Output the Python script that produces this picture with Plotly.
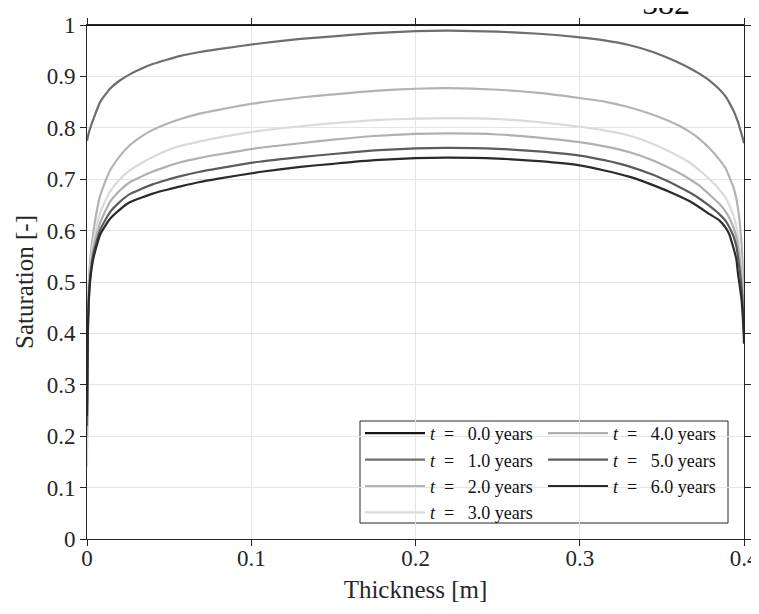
import plotly.graph_objects as go

# Thickness positions [m]
thickness = [0, 0.0005, 0.001, 0.002, 0.004, 0.008, 0.014, 0.02, 0.026, 0.033, 0.04, 0.048,
             0.057, 0.068, 0.08, 0.105, 0.13, 0.15, 0.175, 0.2, 0.22, 0.25, 0.275, 0.3,
             0.315, 0.33, 0.345, 0.36, 0.367, 0.373, 0.379, 0.385, 0.389, 0.391, 0.3935,
             0.3953, 0.3965, 0.3973, 0.3985, 0.3993, 0.3998, 0.4]

sat_t0 = [1.0] * len(thickness)
sat_t1 = [0.775, 0.782, 0.789, 0.80, 0.818, 0.850, 0.876, 0.892, 0.904, 0.915, 0.924, 0.932,
          0.940, 0.947, 0.953, 0.964, 0.973, 0.978, 0.984, 0.988, 0.989, 0.987, 0.983, 0.976,
          0.970, 0.961, 0.947, 0.927, 0.916, 0.905, 0.892, 0.875, 0.860, 0.849, 0.834,
          0.820, 0.810, 0.801, 0.788, 0.779, 0.773, 0.77]
sat_t2 = [0.18, 0.42, 0.49, 0.545, 0.60, 0.668, 0.717, 0.745, 0.766, 0.783, 0.796, 0.807,
          0.817, 0.827, 0.835, 0.849, 0.859, 0.865, 0.872, 0.876, 0.877, 0.874, 0.868, 0.858,
          0.851, 0.840, 0.825, 0.805, 0.792, 0.778, 0.760, 0.738, 0.720, 0.705, 0.685,
          0.663, 0.64, 0.62, 0.575, 0.525, 0.47, 0.42]
sat_t3 = [0.14, 0.41, 0.48, 0.53, 0.58, 0.635, 0.676, 0.700, 0.717, 0.731, 0.743, 0.755,
          0.765, 0.773, 0.781, 0.794, 0.803, 0.809, 0.815, 0.818, 0.819, 0.817, 0.811, 0.802,
          0.795, 0.785, 0.768, 0.745, 0.732, 0.717, 0.700, 0.680, 0.663, 0.650, 0.630,
          0.608, 0.585, 0.565, 0.525, 0.485, 0.44, 0.41]
sat_t4 = [0.20, 0.41, 0.47, 0.52, 0.567, 0.615, 0.656, 0.678, 0.694, 0.705, 0.715, 0.724,
          0.733, 0.741, 0.748, 0.761, 0.770, 0.777, 0.784, 0.788, 0.789, 0.787, 0.781, 0.772,
          0.764, 0.753, 0.736, 0.713, 0.700, 0.687, 0.670, 0.652, 0.636, 0.625, 0.607,
          0.588, 0.565, 0.545, 0.51, 0.47, 0.43, 0.40]
sat_t5 = [0.22, 0.40, 0.46, 0.512, 0.557, 0.601, 0.636, 0.656, 0.671, 0.681, 0.690, 0.698,
          0.706, 0.714, 0.721, 0.734, 0.743, 0.749, 0.756, 0.760, 0.761, 0.759, 0.754, 0.746,
          0.737, 0.725, 0.708, 0.686, 0.674, 0.662, 0.648, 0.632, 0.618, 0.607, 0.590,
          0.570, 0.545, 0.525, 0.49, 0.45, 0.42, 0.40]
sat_t6 = [0.24, 0.40, 0.455, 0.505, 0.548, 0.592, 0.623, 0.641, 0.655, 0.664, 0.672, 0.679,
          0.686, 0.694, 0.701, 0.714, 0.724, 0.730, 0.737, 0.741, 0.742, 0.740, 0.735, 0.727,
          0.717, 0.705, 0.688, 0.668, 0.657, 0.645, 0.632, 0.620, 0.605, 0.593, 0.567,
          0.545, 0.512, 0.495, 0.466, 0.43, 0.40, 0.38]

series_names = ["0.0", "1.0", "2.0", "3.0", "4.0", "5.0", "6.0"]
series_values = [sat_t0, sat_t1, sat_t2, sat_t3, sat_t4, sat_t5, sat_t6]
series_colors = ["#161616", "#6e6e6e", "#b3b3b3", "#dadada", "#b0b0b0", "#5c5c5c", "#2a2a2a"]
series_legend = ["legend", "legend", "legend", "legend", "legend2", "legend2", "legend2"]

x_ticks = [0, 0.1, 0.2, 0.3, 0.4]
x_ticklabels = ["0", "0.1", "0.2", "0.3", "0.4"]
y_ticks = [0, 0.1, 0.2, 0.3, 0.4, 0.5, 0.6, 0.7, 0.8, 0.9, 1]
y_ticklabels = ["0", "0.1", "0.2", "0.3", "0.4", "0.5", "0.6", "0.7", "0.8", "0.9", "1"]

FONT = "Liberation Serif"
AX = "#262626"

# figure size (page body has an 8px margin) and plot-area pixel geometry
FW, FH = 751, 606
L, R, T, B = 79, 736, 17, 531
W, H = R - L, B - T

def px_x(p):
    return (p - L) / W

def px_y(p):
    return (B - p) / H

fig = go.Figure()
for name, vals, col, lg in zip(series_names, series_values, series_colors, series_legend):
    fig.add_trace(go.Scatter(
        x=thickness, y=vals, mode="lines",
        line=dict(color=col, width=2.2, shape="spline", smoothing=0.5),
        name="<i>t</i>&nbsp;&nbsp;=&nbsp;&nbsp;&nbsp;" + name + "&nbsp;years",
        legend=lg, cliponaxis=False,
    ))

axis_common = dict(
    showline=True, linecolor=AX, linewidth=1, mirror="ticks",
    ticks="outside", ticklen=6, tickcolor=AX, tickwidth=1,
    showgrid=True, gridcolor="#e4e4e4", gridwidth=1, zeroline=False,
    tickfont=dict(family=FONT, size=23, color=AX), automargin=False,
)

fig.update_layout(
    width=FW, height=FH,
    margin=dict(l=L, r=FW - R, t=T, b=FH - B),
    paper_bgcolor="white", plot_bgcolor="white",
    font=dict(family=FONT, color=AX),
    xaxis=dict(range=[0, 0.4], tickvals=x_ticks, ticktext=x_ticklabels,
               ticklabelstandoff=-8,
               title=dict(text="Thickness [m]", font=dict(family=FONT, size=25, color=AX), standoff=10),
               **axis_common),
    yaxis=dict(range=[0, 1], tickvals=y_ticks, ticktext=y_ticklabels,
               title=dict(text="Saturation [-]", font=dict(family=FONT, size=25, color=AX), standoff=5),
               **axis_common),
    legend=dict(x=px_x(352), y=px_y(407), xanchor="left", yanchor="top", bgcolor="rgba(0,0,0,0)",
                font=dict(family=FONT, size=18, color="#111"), itemwidth=60,
                tracegroupgap=0, borderwidth=0),
    legend2=dict(x=px_x(535), y=px_y(407), xanchor="left", yanchor="top", bgcolor="rgba(0,0,0,0)",
                 font=dict(family=FONT, size=18, color="#111"), itemwidth=60,
                 tracegroupgap=0, borderwidth=0),
    showlegend=True,
)

# legend frame
fig.add_shape(type="rect", xref="paper", yref="paper",
              x0=px_x(352), x1=px_x(720), y0=px_y(515), y1=px_y(413),
              line=dict(color=AX, width=1), fillcolor="white", layer="below")

# page number cut at the top
fig.add_annotation(text="582", xref="paper", yref="paper",
                   x=px_x(658), y=px_y(15), xanchor="center", yanchor="bottom",
                   showarrow=False, font=dict(family=FONT, size=32, color="#111"))

fig.write_html("out.html")
